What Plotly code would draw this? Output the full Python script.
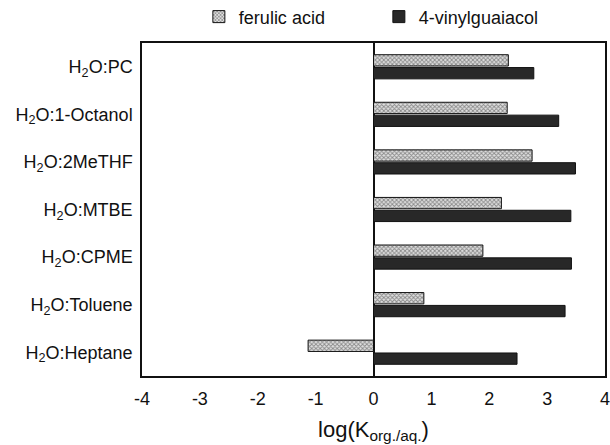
import plotly.graph_objects as go

categories = ["H<sub>2</sub>O:PC", "H<sub>2</sub>O:1-Octanol", "H<sub>2</sub>O:2MeTHF",
              "H<sub>2</sub>O:MTBE", "H<sub>2</sub>O:CPME", "H<sub>2</sub>O:Toluene",
              "H<sub>2</sub>O:Heptane"]
ferulic_acid = [2.33, 2.31, 2.74, 2.21, 1.89, 0.87, -1.13]
vinylguaiacol = [2.77, 3.20, 3.49, 3.41, 3.42, 3.31, 2.48]
x_ticks = [-4, -3, -2, -1, 0, 1, 2, 3, 4]

fig = go.Figure()
fig.add_trace(go.Bar(
    y=categories, x=ferulic_acid, orientation="h", name="ferulic acid",
    marker=dict(color="#e0e0e0", line=dict(color="#111111", width=1),
                pattern=dict(shape="x", fgcolor="#333333", size=3, solidity=0.5)),
))
fig.add_trace(go.Bar(
    y=categories, x=vinylguaiacol, orientation="h", name="4-vinylguaiacol",
    marker=dict(color="#282828", line=dict(color="#111111", width=1)),
))

fig.update_layout(
    width=610, height=445,
    margin=dict(l=142, r=5, t=43, b=69, autoexpand=False),
    paper_bgcolor="white", plot_bgcolor="white",
    font=dict(family="Liberation Sans", size=18, color="#111111"),
    barmode="group", bargap=0.46, bargroupgap=0.12,
    showlegend=True,
    legend=dict(orientation="h", xref="container", x=0.326, xanchor="left",
                yref="container", y=0.962, yanchor="middle",
                font=dict(size=18), entrywidth=135, itemwidth=30, traceorder="normal",
                bgcolor="rgba(0,0,0,0)"),
    xaxis=dict(range=[-4, 4], tickvals=x_ticks, ticktext=[str(v) for v in x_ticks],
               showgrid=False, zeroline=True, zerolinecolor="#111111", zerolinewidth=1.5,
               showline=True, linecolor="#111111", linewidth=1.5, mirror=True,
               ticks="", ticklen=0, ticklabelstandoff=6, ticklabeloverflow="allow",
               title=dict(text="log(K<sub>org./aq.</sub>)", standoff=13),
               tickfont=dict(size=18)),
    yaxis=dict(autorange="reversed", showgrid=False, showline=True, linecolor="#111111",
               linewidth=1.5, mirror=True, ticks="", ticklabelstandoff=4,
               tickfont=dict(size=18)),
)

fig.write_html("out.html")
